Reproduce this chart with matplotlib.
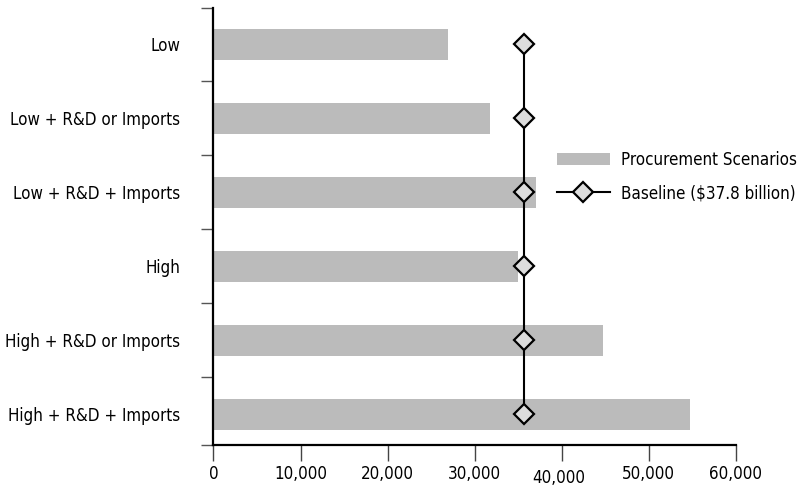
import matplotlib
matplotlib.use("Agg")
import matplotlib.pyplot as plt
from matplotlib.patches import Patch
from matplotlib.lines import Line2D
import matplotlib.transforms as mtransforms

plt.rcParams['font.family'] = ['DejaVu Sans']
plt.rcParams['font.stretch'] = 'condensed'

categories = ["Low", "Low + R&D or Imports", "Low + R&D + Imports", "High",
              "High + R&D or Imports", "High + R&D + Imports"]
procurement = [27000, 31800, 37100, 35000, 44700, 54700]
baseline = [35700, 35700, 35700, 35700, 35700, 35700]
xticks = [0, 10000, 20000, 30000, 40000, 50000, 60000]
xtick_labels = ["0", "10,000", "20,000", "30,000", "40,000", "50,000", "60,000"]
legend_labels = ["Procurement Scenarios", "Baseline ($37.8 billion)"]

FS = 12.2
fig = plt.figure(figsize=(8.02, 4.91), dpi=100)
ax = fig.add_axes([0.2662, 0.0943, 0.9173 - 0.2662, 0.9847 - 0.0943])

y = list(range(len(categories)))
ax.barh(y, procurement, height=0.416, color='#bbbbbb', zorder=2)
ax.plot(baseline, y, color='black', lw=1.5, marker='D', ms=9.8,
        mfc='#dddddd', mec='black', mew=1.6, zorder=3, clip_on=False)

ax.set_xlim(0, 60000)
ax.set_ylim(5.41, -0.5)

for s in ['top', 'right']:
    ax.spines[s].set_visible(False)
for s in ['left', 'bottom']:
    ax.spines[s].set_linewidth(1.6)
    ax.spines[s].set_color('black')

ax.set_xticks(xticks)
ax.set_xticklabels(xtick_labels, fontsize=FS)
ax.tick_params(axis='x', direction='out', length=11.5, width=1, color='#444444', pad=3)

ax.set_yticks(y)
ax.set_yticklabels(categories, fontsize=FS)
ax.tick_params(axis='y', which='major', length=0, pad=24)
ybot = ax.get_ylim()[0]
ax.set_yticks([i - 0.5 for i in range(len(categories))] + [ybot], minor=True)
ax.tick_params(axis='y', which='minor', direction='out', length=8.6, width=1, color='#555555')

# the 40,000 label sits a little lower in the reference
lbl = ax.get_xticklabels()[4]
lbl.set_transform(lbl.get_transform() + mtransforms.ScaledTranslation(-3/100, -4/100, fig.dpi_scale_trans))

handles = [Patch(facecolor='#bbbbbb', edgecolor='none'),
           Line2D([], [], color='black', lw=1.5, marker='D', ms=9.8,
                  mfc='#dddddd', mec='black', mew=1.6)]
leg = fig.legend(handles, legend_labels, loc='center left',
                 bbox_to_anchor=(0.6945, 0.6405), frameon=False, fontsize=FS,
                 handlelength=3.1, handleheight=0.8, handletextpad=0.7,
                 labelspacing=0.9, borderpad=0, borderaxespad=0)

fig.savefig("out.png", dpi=100)
